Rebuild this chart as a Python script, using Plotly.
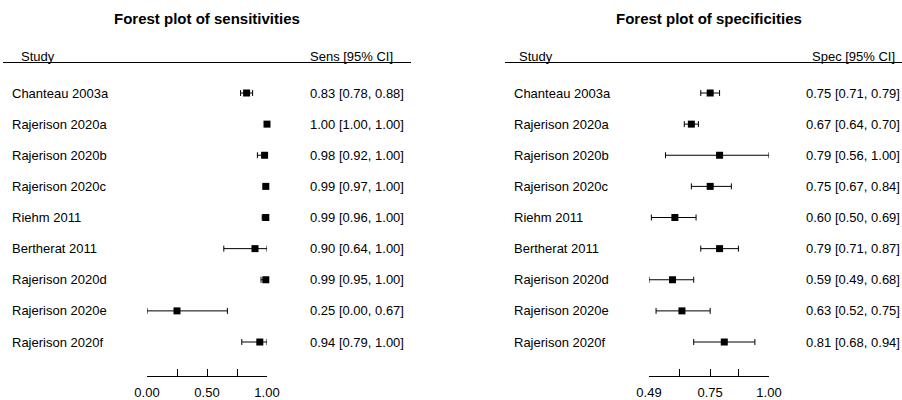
import plotly.graph_objects as go

# Per-study estimates with 95% confidence limits
studies = ["Chanteau 2003a", "Rajerison 2020a", "Rajerison 2020b", "Rajerison 2020c",
           "Riehm 2011", "Bertherat 2011", "Rajerison 2020d", "Rajerison 2020e",
           "Rajerison 2020f"]

sens = [0.83, 1.00, 0.98, 0.99, 0.99, 0.90, 0.99, 0.25, 0.94]
sens_lo = [0.78, 1.00, 0.92, 0.97, 0.96, 0.64, 0.95, 0.00, 0.79]
sens_hi = [0.88, 1.00, 1.00, 1.00, 1.00, 1.00, 1.00, 0.67, 1.00]

spec = [0.75, 0.67, 0.79, 0.75, 0.60, 0.79, 0.59, 0.63, 0.81]
spec_lo = [0.71, 0.64, 0.56, 0.67, 0.50, 0.71, 0.49, 0.52, 0.68]
spec_hi = [0.79, 0.70, 1.00, 0.84, 0.69, 0.87, 0.68, 0.75, 0.94]

sens_ticks = [0.00, 0.25, 0.50, 0.75, 1.00]
sens_ticktext = ["0.00", "", "0.50", "", "1.00"]
spec_ticks = [0.49, 0.62, 0.75, 0.87, 1.00]
spec_ticktext = ["0.49", "", "0.75", "", "1.00"]

W, H = 902, 400
FONT = "Liberation Sans, Arial, Helvetica, sans-serif"


def px(x):
    return x / W


def py(y):
    return 1 - y / H


def panel(est, lo, hi, xaxis, offset, title, col_head, value_x):
    trace = go.Scatter(
        x=est, y=studies, xaxis=xaxis, yaxis="y", mode="markers",
        marker=dict(symbol="square", size=7, color="black"),
        error_x=dict(type="data", symmetric=False,
                     array=[h - e for e, h in zip(est, hi)],
                     arrayminus=[e - l for e, l in zip(est, lo)],
                     color="black", thickness=1, width=3),
        cliponaxis=False, showlegend=False, hoverinfo="skip",
    )
    anns = [
        dict(text=f"<b>{title}</b>", x=px(207 + offset), y=py(19), xref="paper", yref="paper",
             xanchor="center", yanchor="middle", showarrow=False,
             font=dict(size=15, color="black", family=FONT)),
        dict(text="Study", x=px(19 + offset - (4 if offset else 0)), y=py(56), xref="paper",
             yref="paper", xanchor="left", yanchor="middle", showarrow=False,
             font=dict(size=13, color="black", family=FONT)),
        dict(text=col_head, x=px(308 + offset), y=py(56), xref="paper", yref="paper",
             xanchor="left", yanchor="middle", showarrow=False,
             font=dict(size=13, color="black", family=FONT)),
    ]
    for s, e, l, h in zip(studies, est, lo, hi):
        anns.append(dict(text=s, x=px(10 + offset), y=s, xref="paper", yref="y",
                         xanchor="left", yanchor="middle", showarrow=False,
                         font=dict(size=13, color="black", family=FONT)))
        anns.append(dict(text=f"{e:.2f} [{l:.2f}, {h:.2f}]", x=px(value_x), y=s,
                         xref="paper", yref="y", xanchor="left", yanchor="middle",
                         showarrow=False, font=dict(size=13, color="black", family=FONT)))
    line = dict(type="line", xref="paper", yref="paper",
                x0=px(3 + offset), x1=px(411 + offset), y0=py(62.5), y1=py(62.5),
                line=dict(color="black", width=1))
    return trace, anns, line


t1, a1, l1 = panel(sens, sens_lo, sens_hi, "x", 0,
                   "Forest plot of sensitivities", "Sens [95% CI]", 308)
t2, a2, l2 = panel(spec, spec_lo, spec_hi, "x2", 502,
                   "Forest plot of specificities", "Spec [95% CI]", 804)

fig = go.Figure([t1, t2])

axis_common = dict(showline=True, linecolor="black", linewidth=1, mirror=False,
                   ticks="inside", ticklen=7, tickcolor="black", tickwidth=1,
                   showgrid=False, zeroline=False, anchor="y",
                   tickfont=dict(size=13, color="black", family=FONT),
                   ticklabelstandoff=4)

fig.update_layout(
    width=W, height=H, margin=dict(l=0, r=0, t=0, b=0, autoexpand=False),
    paper_bgcolor="white", plot_bgcolor="white",
    xaxis=dict(domain=[px(147), px(267)], range=[0, 1], tickvals=sens_ticks,
               ticktext=sens_ticktext, **axis_common),
    xaxis2=dict(domain=[px(649), px(769)], range=[0.49, 1.0], tickvals=spec_ticks,
                ticktext=spec_ticktext, **axis_common),
    yaxis=dict(domain=[py(376), py(62)], type="category",
               categoryarray=studies[::-1], range=[-1.092, 8.996], visible=False),
    annotations=a1 + a2,
    shapes=[l1, l2],
)

fig.write_html("out.html")
